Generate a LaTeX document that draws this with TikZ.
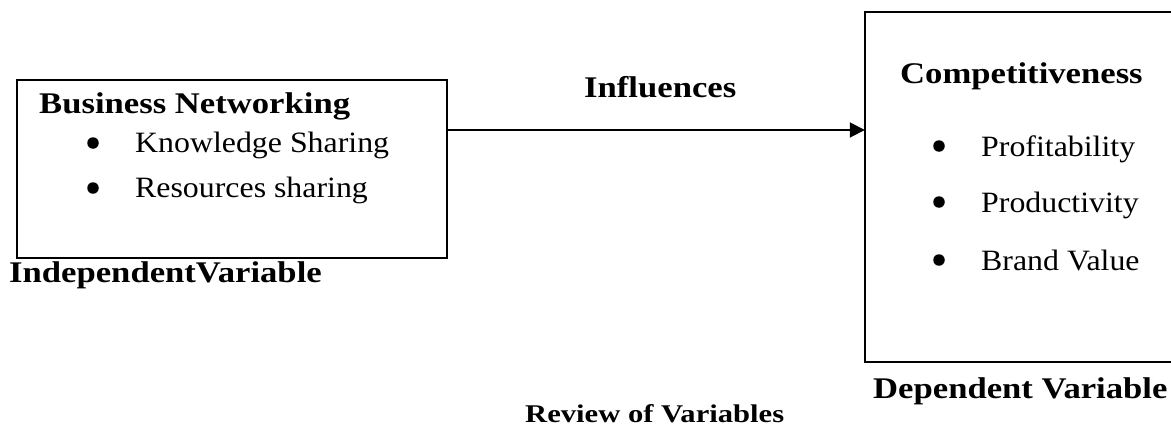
\documentclass[tikz,border=0pt]{standalone}
\usepackage{fontspec}
\setmainfont{Liberation Serif}[FakeStretch=1.08]
\newfontfamily\hfont{Liberation Serif}[FakeStretch=1.155]
\newfontfamily\cfont{Liberation Serif}[FakeStretch=1.2]
\usetikzlibrary{arrows.meta}
\begin{document}
\begin{tikzpicture}[x=1pt,y=-1pt,
  frame/.style={draw, line width=1.8pt, inner sep=0pt},
  head/.style={anchor=base west, inner sep=0pt, font=\hfont\bfseries\fontsize{30}{36}\selectfont},
  caption/.style={anchor=base west, inner sep=0pt, font=\cfont\bfseries\fontsize{25.5}{30}\selectfont},
  item/.style={anchor=base west, inner sep=0pt, font=\fontsize{29.5}{35}\selectfont},
  dot/.style={circle, fill, inner sep=0pt, minimum size=11.5pt},
  link/.style={line width=1.8pt, -{Triangle[length=15pt,width=15pt]}}]
\useasboundingbox (0,0) rectangle (1171,434);

% boxes
\node[frame, minimum width=430pt, minimum height=178pt] (ind) at (232,169) {};
\node[inner sep=0pt, minimum width=306pt, minimum height=350pt] (dep) at (1018,187) {};
\draw[line width=1.8pt] (dep.north east) -- (dep.north west) -- (dep.south west) -- (dep.south east);

% left box texts
\node[head] (bn) at (39,113) {Business Networking};
\node[dot] (b1) at (93,143) {};
\node[item] (ks) at (135,152) {Knowledge Sharing};
\node[dot] (b2) at (93,188) {};
\node[item] (rs) at (135,197) {Resources sharing};
\node[head] (iv) at (9,282) {IndependentVariable};

% arrow
\coordinate (ay) at (0,130);
\draw[link] (ind.east |- ay) -- (dep.west |- ay);
\node[head] (inf) at (584,97) {Influences};

% right box texts
\node[head] (comp) at (900,83) {Competitiveness};
\node[dot] (b3) at (939,146) {};
\node[item] (pr) at (981,156) {Profitability};
\node[dot] (b4) at (939,202) {};
\node[item] (pd) at (981,212) {Productivity};
\node[dot] (b5) at (939,260) {};
\node[item] (bv) at (981,270) {Brand Value};
\node[head] (dv) at (873,398) {Dependent Variable};

% caption
\node[caption] (rv) at (525,422) {Review of Variables};
\end{tikzpicture}
\end{document}
